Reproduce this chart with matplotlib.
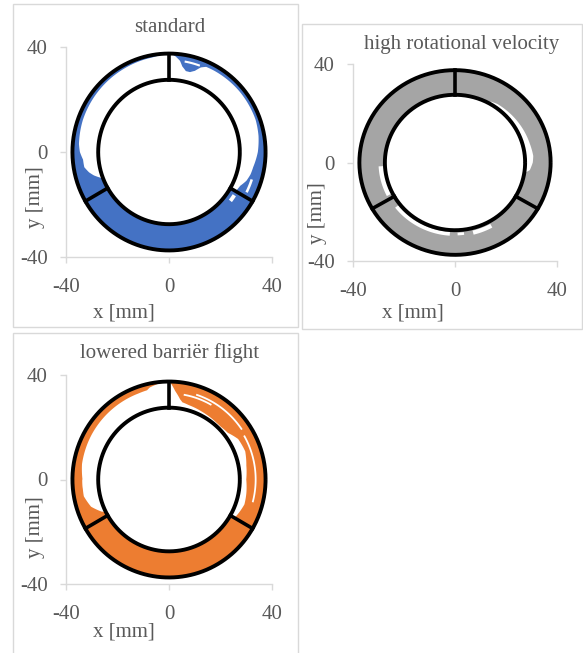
import matplotlib.pyplot as plt
import numpy as np
from matplotlib.patches import Rectangle

plt.rcParams["font.family"] = ["Liberation Serif", "DejaVu Serif"]
plt.rcParams["axes.unicode_minus"] = False

# ring geometry in mm
r_inner = 27.5
r_outer = 37.5
divider_angles = [90, 210, 330]

ticks = [-40, 0, 40]
tick_labels = ["-40", "0", "40"]

titles = ["standard", "high rotational velocity", "lowered barriër flight"]
colors = ["#4472C4", "#A5A5A5", "#ED7D31"]

# covered area: at angle theta (deg, ccw from +x) material sits from r_lo out to the wall
std_theta = [-30, -29, -25, -20, -15, -10, 0, 10, 20, 40, 60, 66, 69, 72, 75, 78, 81, 83, 86, 89,
             91, 95, 100, 120, 140, 160, 175, 180, 185, 190, 194, 197, 200, 202, 210, 270, 330]
std_rlo = [27.5, 30.0, 30.5, 32.0, 32.8, 33.2, 34.5, 35.3, 35.8, 35.8, 35.6, 35.5, 34.5, 32.5, 31.5, 31.5,
           33.0, 35.0, 36.5, 37.5, 37.5, 37.0, 36.6, 36.2, 35.9, 35.6, 35.1, 34.6, 33.5, 33.4, 32.0,
           30.5, 28.5, 27.5, 27.5, 27.5, 27.5]
# uncovered streaks inside the covered area: (theta0, theta1, r0, r1)
std_gaps = [(-38, -33, 29.5, 31.0), (-27, -18, 33.3, 34.3), (70, 80, 34.6, 35.4)]

hrv_theta = [-30, -9, -6, 0, 5, 15, 30, 45, 55, 60, 63, 330]
hrv_rlo = [27.5, 27.5, 29.5, 30.5, 30.8, 30.3, 29.8, 29.3, 29.0, 28.5, 27.5, 27.5]
hrv_gaps = [(183, 207, 28.0, 30.0), (218, 266, 28.3, 29.8), (272, 277, 28.5, 29.6), (284, 299, 28.5, 30.2)]

lbf_theta = [-30, -29, -25, -18, -10, 0, 10, 20, 30, 38, 45, 50, 60, 65, 75, 80, 82, 86, 88, 89.5,
             91, 97, 102, 104, 110, 130, 150, 170, 180, 191, 199, 205, 207, 210, 270, 330]
lbf_rlo = [27.5, 29.5, 30.0, 30.8, 30.5, 30.0, 30.5, 31.5, 31.0, 29.0, 28.5, 28.5, 28.8, 29.0, 29.5, 30.0,
           31.0, 34.0, 36.0, 37.5, 37.3, 36.8, 36.0, 35.2, 35.0, 34.8, 34.6, 34.3, 33.6, 33.7, 32.0,
           29.0, 27.5, 27.5, 27.5, 27.5]
lbf_gaps = [(-15, 30, 33.3, 34.0), (34, 72, 33.8, 34.5), (60, 80, 32.6, 33.3), (180, 186, 33.0, 33.6)]

thetas = [std_theta, hrv_theta, lbf_theta]
rlos = [std_rlo, hrv_rlo, lbf_rlo]
gaps = [std_gaps, hrv_gaps, lbf_gaps]

W, H = 583, 653
fig = plt.figure(figsize=(W / 100, H / 100), dpi=100)

# (left, top, right, bottom) of each plot area in pixels
areas = [(66, 47, 272, 257), (353, 64, 557, 261), (66, 375, 272, 584)]
boxes = [(13, 4, 298, 327), (302, 24, 582, 329), (13, 333, 298, 670)]
title_pos = [(170, 32), (462, 49), (170, 358)]
xlabel_pos = [(0.28, -0.267), (0.294, -0.264), (0.28, -0.23)]
ylabel_pos = [(-0.146, 0.286), (-0.176, 0.244), (-0.146, 0.273)]

grey_txt = "#595959"
grey_ax = "#D9D9D9"


def arc(r, t0, t1, n=400):
    t = np.radians(np.linspace(t0, t1, n))
    return r * np.cos(t), r * np.sin(t)


for i in range(3):
    x0, y0, x1, y1 = boxes[i]
    fig.add_artist(Rectangle((x0 / W, 1 - y1 / H), (x1 - x0) / W, (y1 - y0) / H,
                             transform=fig.transFigure, fill=False, edgecolor=grey_ax, lw=1))

    l, t, r, b = areas[i]
    ax = fig.add_axes([l / W, 1 - b / H, (r - l) / W, (b - t) / H])

    # covered band
    th = np.linspace(thetas[i][0], thetas[i][-1], 2000)
    rl = np.interp(th, thetas[i], rlos[i])
    ox, oy = arc(r_outer + 0.3, th[0], th[-1], 2000)
    ix = rl[::-1] * np.cos(np.radians(th[::-1]))
    iy = rl[::-1] * np.sin(np.radians(th[::-1]))
    ax.fill(np.concatenate([ox, ix]), np.concatenate([oy, iy]), color=colors[i], lw=0)

    for g0, g1, gr0, gr1 in gaps[i]:
        ax_, ay_ = arc(gr1, g0, g1, 100)
        bx_, by_ = arc(gr0, g1, g0, 100)
        ax.fill(np.concatenate([ax_, bx_]), np.concatenate([ay_, by_]), color="white", lw=0)

    # walls of the channel
    for rr in (r_inner, r_outer):
        cx, cy = arc(rr, 0, 360, 720)
        ax.plot(cx, cy, color="black", lw=2.8, solid_capstyle="butt")
    for a in divider_angles:
        ca, sa = np.cos(np.radians(a)), np.sin(np.radians(a))
        ax.plot([r_inner * ca, r_outer * ca], [r_inner * sa, r_outer * sa], color="black", lw=2.6)

    ax.set_xlim(-40, 40)
    ax.set_ylim(-40, 40)
    ax.set_xticks(ticks, tick_labels)
    ax.set_yticks(ticks, tick_labels)
    for s in ("top", "right"):
        ax.spines[s].set_visible(False)
    for s in ("left", "bottom"):
        ax.spines[s].set_color(grey_ax)
        ax.spines[s].set_linewidth(1)
    ax.tick_params(length=4, width=1, color=grey_ax, labelcolor=grey_txt, labelsize=15)
    ax.tick_params(axis="x", pad=11)
    ax.tick_params(axis="y", pad=9)
    ax.patch.set_alpha(0)

    ax.set_xlabel("x [mm]", fontsize=15, color=grey_txt, va="center", ha="center")
    ax.xaxis.set_label_coords(*xlabel_pos[i])
    ax.set_ylabel("y [mm]", fontsize=15, color=grey_txt, va="center", ha="center")
    ax.yaxis.set_label_coords(*ylabel_pos[i])

    tx, ty = title_pos[i]
    fig.text(tx / W, 1 - ty / H, titles[i], fontsize=15, color=grey_txt, ha="center", va="baseline")

fig.savefig("out.png", dpi=100)
